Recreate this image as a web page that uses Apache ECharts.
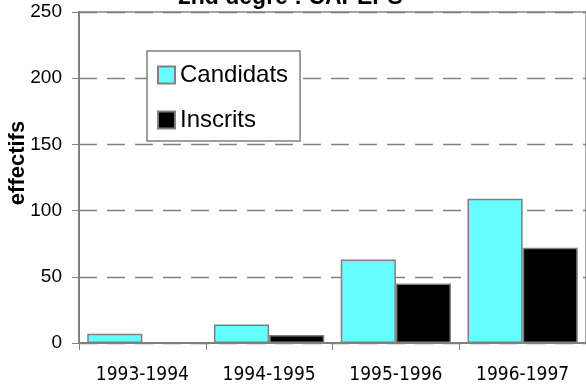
<!DOCTYPE html>
<html>
<head>
<meta charset="utf-8">
<script src="https://cdn.jsdelivr.net/npm/echarts@6/dist/echarts.min.js"></script>
<style>html,body{margin:0;padding:0;background:#fff;}#c{width:586px;height:387px;}</style>
</head>
<body>
<div id="c"></div>
<script>
var categories = ['1993-1994', '1994-1995', '1995-1996', '1996-1997'];
var candidats = [7, 14, 63, 109];
var inscrits = [0, 6, 45, 72];
var yTicks = { min: 0, max: 250, interval: 50 };
var titleText = '2nd degré : CAPEPS';
var yName = 'effectifs';

var chart = echarts.init(document.getElementById('c'), null, { renderer: 'canvas' });
chart.setOption({
  animation: false,
  backgroundColor: '#fff',
  title: {
    text: titleText,
    left: 178,
    top: -14,
    padding: 0,
    textStyle: { fontFamily: 'Liberation Sans', fontWeight: 'bold', fontSize: 23, color: '#000' }
  },
  legend: {
    orient: 'vertical',
    left: 147,
    top: 51,
    padding: [12, 12, 9, 10],
    itemGap: 21,
    itemWidth: 17,
    itemHeight: 17,
    icon: 'rect',
    backgroundColor: '#fff',
    borderColor: '#808080',
    borderWidth: 1.5,
    textStyle: { fontFamily: 'Liberation Sans', fontSize: 24, color: '#000' },
    data: ['Candidats', 'Inscrits']
  },
  graphic: [{
    type: 'text',
    x: 18,
    y: 163,
    rotation: Math.PI / 2,
    style: {
      text: yName,
      fontFamily: 'Liberation Sans', fontWeight: 'bold', fontSize: 22, fill: '#000',
      align: 'center', verticalAlign: 'middle'
    }
  }],
  grid: {
    left: 79, right: 0, top: 12, bottom: 44,
    outerBoundsMode: 'none',
    containLabel: false,
    show: true, borderColor: '#888', borderWidth: 1.5, backgroundColor: 'transparent'
  },
  xAxis: {
    type: 'category',
    data: categories,
    axisLine: { lineStyle: { color: '#808080', width: 2 } },
    axisTick: { show: true, length: 7, alignWithLabel: false, lineStyle: { color: '#808080', width: 1 } },
    axisLabel: { fontFamily: 'DejaVu Sans Condensed, Liberation Sans Narrow, Liberation Sans', fontSize: 19, color: '#000', margin: 23 }
  },
  yAxis: {
    type: 'value',
    min: yTicks.min, max: yTicks.max, interval: yTicks.interval,
    axisLine: { show: true, lineStyle: { color: '#808080', width: 2 } },
    axisTick: { show: true, length: 7, lineStyle: { color: '#808080', width: 1 } },
    axisLabel: { fontFamily: 'Liberation Sans', fontSize: 19, color: '#000', margin: 17 },
    splitLine: { show: true, lineStyle: { color: '#808080', width: 1.3, type: [18, 10] } }
  },
  series: [
    {
      name: 'Candidats', type: 'bar', data: candidats,
      barGap: '0%', barCategoryGap: '13%',
      itemStyle: { color: '#66FFFF', borderColor: '#808080', borderWidth: 1.5 }
    },
    {
      name: 'Inscrits', type: 'bar', data: inscrits,
      barGap: '0%', barCategoryGap: '13%',
      itemStyle: { color: '#000000', borderColor: '#808080', borderWidth: 1.5 }
    }
  ]
});
</script>
</body>
</html>
